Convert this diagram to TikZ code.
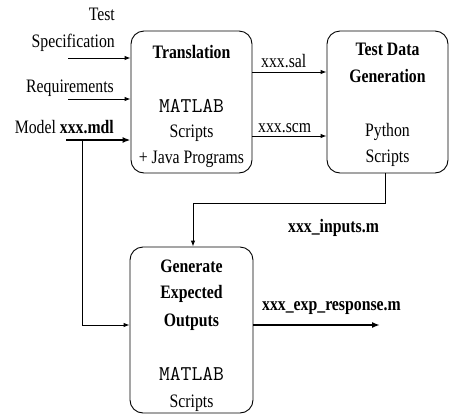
\documentclass[tikz,border=0pt]{standalone}
\usepackage{fontspec}
\setmainfont{Liberation Serif}[FakeStretch=0.83]
\usetikzlibrary{arrows.meta}
\begin{document}
\begin{tikzpicture}[x=1pt,y=-1pt,
  box/.style={draw,rounded corners=13pt,line width=0.9pt,inner sep=0pt},
  lbl/.style={inner sep=0pt,anchor=base,font=\fontsize{19}{22}\selectfont},
  ttl/.style={lbl,font=\fontsize{19}{22}\selectfont\bfseries},
  mono/.style={lbl,font=\fontsize{21}{22}\selectfont\ttfamily},
  arr/.style={line width=0.9pt,-{Latex[length=6pt,width=4.5pt]}},
  thk/.style={line width=1.8pt,-{Latex[length=8pt,width=6pt]}},
  ln/.style={line width=0.9pt}]
\useasboundingbox (0,0) rectangle (451,416);
% boxes
\node[box,minimum width=121pt,minimum height=142pt] (tr) at (191.5,102) {};
\node[box,minimum width=121pt,minimum height=142pt] (tdg) at (387.5,102) {};
\node[box,minimum width=123pt,minimum height=166pt] (gen) at (191.5,330) {};
% translation text
\node[ttl] (t1) at (191.5,58) {Translation};
\node[mono] (t2) at (191.5,112) {MATLAB};
\node[lbl] (t3) at (191.5,137) {Scripts};
\node[lbl] (t4) at (191.5,163) {+ Java Programs};
% TDG text
\node[ttl] (d1) at (387.5,55) {Test Data};
\node[ttl] (d2) at (387.5,82) {Generation};
\node[lbl] (d3) at (387.5,136) {Python};
\node[lbl] (d4) at (387.5,162) {Scripts};
% generate text
\node[ttl] (g1) at (191.5,272) {Generate};
\node[ttl] (g2) at (191.5,298) {Expected};
\node[ttl] (g3) at (191.5,326) {Outputs};
\node[mono] (g4) at (191.5,380) {MATLAB};
\node[lbl] (g5) at (191.5,407) {Scripts};
% left inputs
\node[lbl,anchor=base east] (in1) at (115,20) {Test};
\node[lbl,anchor=base east] (in2) at (115,47) {Specification};
\node[lbl,anchor=base east] (in3) at (114,92) {Requirements};
\node[lbl,anchor=base east] (in4) at (114,133) {Model \textbf{xxx.mdl}};
\coordinate (s1) at (68,58);
\coordinate (s2) at (68,99);
\coordinate (s3) at (66,140);
\coordinate (v1) at (82,140);
\coordinate (v2) at (82,325);
\draw[arr] (s1) -- (s1 -| tr.west);
\draw[arr] (s2) -- (s2 -| tr.west);
\draw[thk] (s3) -- (s3 -| tr.west);
\draw[arr] (v1) -- (v2) -- (v2 -| gen.west);
% translation -> tdg
\coordinate (a1) at (252,72);
\coordinate (a2) at (252,136);
\draw[arr] (a1 -| tr.east) -- (a1 -| tdg.west);
\draw[arr] (a2 -| tr.east) -- (a2 -| tdg.west);
\node[lbl,anchor=base west] (l1) at (261,67) {xxx.sal};
\node[lbl,anchor=base west] (l2) at (258,132) {xxx.scm};
% tdg -> gen
\coordinate (b1) at (385,203);
\coordinate (b2) at (193,203);
\draw[arr] (tdg.south -| b1) -- (b1) -- (b2) -- (b2 |- gen.north);
\node[lbl,font=\fontsize{19}{22}\selectfont\bfseries,anchor=base west] (l3) at (288,232) {xxx\_inputs.m};
% output
\coordinate (o1) at (380,325);
\draw[thk] (o1 -| gen.east) -- (o1);
\node[lbl,font=\fontsize{19}{22}\selectfont\bfseries,anchor=base west] (l4) at (262,310) {xxx\_exp\_response.m};
\end{tikzpicture}
\end{document}
